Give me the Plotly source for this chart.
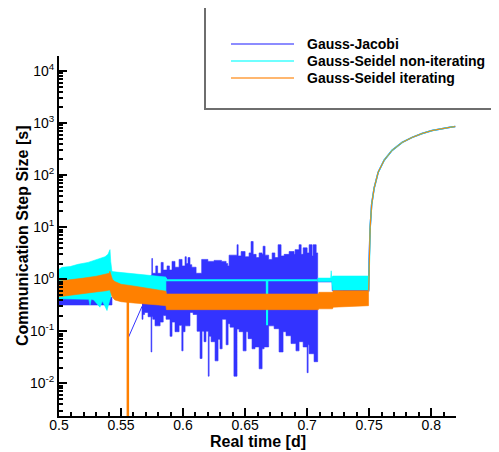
import plotly.graph_objects as go

# ---- data ----
# Gauss-Jacobi (blue)
gj_a_x = [0.5, 0.51, 0.515, 0.5155, 0.516, 0.525, 0.5255, 0.526, 0.535, 0.5355, 0.536, 0.5427]
gj_a_hi = [0.45, 0.45, 0.45, 0.55, 0.45, 0.45, 0.6, 0.45, 0.45, 0.6, 0.45, 0.45]
gj_a_lo = [0.32, 0.32, 0.32, 0.32, 0.32, 0.32, 0.32, 0.32, 0.32, 0.32, 0.32, 0.32]

gj_link_x = [0.5555, 0.5669]
gj_link_y = [0.072, 0.30]

gj_up_x = [0.5669, 0.572, 0.5742, 0.5748, 0.5754, 0.578, 0.5795, 0.5823, 0.584, 0.5871,
           0.589, 0.5911, 0.5935, 0.5968, 0.5992, 0.6016, 0.6026, 0.604, 0.6056, 0.607,
           0.6105, 0.6145, 0.615, 0.62, 0.625, 0.631, 0.6347, 0.636, 0.6371, 0.6435,
           0.6444, 0.6468, 0.65, 0.6532, 0.6548, 0.6565, 0.6589, 0.6613, 0.6637, 0.6645,
           0.6661, 0.669, 0.6718, 0.674, 0.6766, 0.679, 0.6815, 0.6855, 0.6895, 0.6903,
           0.6935, 0.6952, 0.6968, 0.7, 0.7016, 0.704, 0.7048, 0.7073, 0.7085]
gj_up_y = [1.0, 1.1, 1.2, 2.5, 1.3, 1.8, 1.3, 2.1, 1.5, 1.8,
           1.5, 2.2, 1.7, 2.4, 1.8, 2.7, 2.0, 2.6, 1.9, 1.7,
           1.3, 1.3, 2.4, 2.2, 2.3, 2.2, 2.0, 1.8, 2.9, 4.6,
           2.8, 3.4, 2.7, 3.2, 5.3, 3.0, 2.6, 3.2, 3.0, 4.3,
           2.9, 2.4, 3.2, 2.6, 4.6, 2.8, 3.0, 3.4, 3.0, 3.7,
           4.6, 3.0, 4.0, 3.2, 4.6, 2.8, 4.6, 3.2, 3.2]
gj_lo_x = [0.5669, 0.5677, 0.569, 0.5718, 0.5742, 0.5748, 0.5756, 0.5774, 0.5815, 0.584,
           0.5863, 0.5895, 0.5911, 0.5935, 0.5968, 0.599, 0.6, 0.6016, 0.6056, 0.6081,
           0.6113, 0.6137, 0.6153, 0.6169, 0.6185, 0.6203, 0.621, 0.6226, 0.6258, 0.6282,
           0.6298, 0.6315, 0.6347, 0.6363, 0.6379, 0.641, 0.6435, 0.6452, 0.6484, 0.6508,
           0.6524, 0.6556, 0.658, 0.6613, 0.6637, 0.6653, 0.669, 0.6734, 0.6774, 0.6806,
           0.683, 0.687, 0.691, 0.6935, 0.6968, 0.7, 0.7008, 0.7016, 0.7056, 0.7085]
gj_lo_y = [0.30, 0.17, 0.21, 0.23, 0.19, 0.04, 0.19, 0.17, 0.127, 0.15,
           0.2, 0.17, 0.08, 0.15, 0.098, 0.13, 0.042, 0.098, 0.127, 0.23,
           0.21, 0.1, 0.03, 0.1, 0.063, 0.1, 0.0137, 0.08, 0.063, 0.027,
           0.07, 0.046, 0.17, 0.055, 0.14, 0.12, 0.0137, 0.11, 0.098, 0.042,
           0.098, 0.072, 0.046, 0.05, 0.019, 0.046, 0.05, 0.127, 0.112, 0.04,
           0.098, 0.082, 0.058, 0.042, 0.063, 0.05, 0.016, 0.055, 0.037, 0.026]

gj_tail_x = [0.7085, 0.7205, 0.7205, 0.7495]
gj_tail_y = [0.9, 0.9, 0.62, 0.62]

# Gauss-Seidel non-iterating (cyan)
gsn_a_x = [0.5, 0.5024, 0.509, 0.5153, 0.5234, 0.5315, 0.5371, 0.5395, 0.5405, 0.5411, 0.5417, 0.5427]
gsn_a_hi = [1.55, 1.69, 1.75, 1.93, 2.1, 2.4, 2.7, 3.0, 3.4, 3.7, 2.2, 1.4]
gsn_a_lo_x = [0.5, 0.51, 0.52, 0.524, 0.525, 0.526, 0.528, 0.531, 0.533, 0.535, 0.537, 0.5387, 0.54, 0.5415, 0.5427]
gsn_a_lo = [0.42, 0.42, 0.41, 0.41, 0.32, 0.41, 0.40, 0.33, 0.29, 0.38, 0.30, 0.25, 0.33, 0.45, 0.55]

gsn_b_x = [0.5427, 0.55, 0.56, 0.57, 0.58, 0.5862]
gsn_b_hi = [1.4, 1.35, 1.28, 1.2, 1.13, 1.1]
gsn_b_lo = [0.5, 0.5, 0.5, 0.5, 0.5, 0.5]

gsn_line_x = [0.5862, 0.5865, 0.6675, 0.6677, 0.6679, 0.7085]
gsn_line_y = [1.05, 0.96, 0.96, 0.13, 0.96, 0.96]

gsn_c_x = [0.7085, 0.719, 0.7194, 0.7198, 0.7205, 0.7495]
gsn_c_hi = [1.05, 1.05, 1.45, 1.05, 1.15, 1.15]
gsn_c_lo = [0.9, 0.9, 0.9, 0.9, 0.62, 0.62]

# Gauss-Seidel iterating (orange)
gsi_x = [0.5, 0.51, 0.52, 0.53, 0.538, 0.5405, 0.541, 0.5415, 0.543, 0.545, 0.55, 0.56,
         0.57, 0.58, 0.5862, 0.5866, 0.709, 0.7095, 0.7205, 0.721, 0.7495]
gsi_hi = [0.92, 0.97, 1.05, 1.14, 1.25, 1.3, 1.42, 1.3, 1.0, 0.9, 0.8, 0.74,
          0.67, 0.62, 0.59, 0.52, 0.52, 0.56, 0.56, 0.6, 0.6]
gsi_lo = [0.46, 0.5, 0.53, 0.57, 0.6, 0.62, 0.62, 0.6, 0.45, 0.4, 0.37, 0.35,
          0.33, 0.32, 0.31, 0.26, 0.26, 0.27, 0.27, 0.29, 0.31]
gsi_drop_x = [0.5555, 0.5555]
gsi_drop_y = [0.6, 0.001]

# final rise shared by all three methods
rise_x = [0.7496, 0.75, 0.7508, 0.752, 0.754, 0.7573, 0.7621, 0.7685, 0.7766, 0.7847,
          0.7927, 0.8008, 0.8089, 0.8153, 0.8194]
rise_y = [0.6, 2.4, 9.8, 27, 56, 114, 193, 299, 424, 530, 630, 719, 790, 830, 855]

x_ticks = [0.5, 0.55, 0.6, 0.65, 0.7, 0.75, 0.8]
x_labels = ["0.5", "0.55", "0.6", "0.65", "0.7", "0.75", "0.8"]
y_ticks = [0.01, 0.1, 1, 10, 100, 1000, 10000]
y_labels = ["10<sup>-2</sup>", "10<sup>-1</sup>", "10<sup>0</sup>", "10<sup>1</sup>",
            "10<sup>2</sup>", "10<sup>3</sup>", "10<sup>4</sup>"]

names = ["Gauss-Jacobi", "Gauss-Seidel non-iterating", "Gauss-Seidel iterating"]

BLUE = "#3333ff"
CYAN = "#00ffff"
ORANGE = "#ff8000"
FONT = "Liberation Sans, Arial, Helvetica, sans-serif"

fig = go.Figure()


def add_band(xh, yh, xl, yl, color, shape="linear"):
    # polygon: upper edge left->right, lower edge back right->left
    fig.add_trace(go.Scatter(x=list(xh) + list(xl)[::-1], y=list(yh) + list(yl)[::-1],
                             mode="lines", fill="toself", fillcolor=color,
                             line=dict(color=color, width=0.6, shape=shape),
                             showlegend=False, hoverinfo="skip"))


def add_line(x, y, color, width):
    fig.add_trace(go.Scatter(x=x, y=y, mode="lines", line=dict(color=color, width=width),
                             showlegend=False, hoverinfo="skip"))


# blue first, cyan over it, orange on top
add_band(gj_a_x, gj_a_hi, gj_a_x, gj_a_lo, BLUE)
add_line(gj_link_x, gj_link_y, BLUE, 1)
add_band(gj_up_x, gj_up_y, gj_lo_x, gj_lo_y, BLUE, shape="hv")
add_line(gj_tail_x + rise_x, gj_tail_y + rise_y, BLUE, 1.5)

add_band(gsn_a_x, gsn_a_hi, gsn_a_lo_x, gsn_a_lo, CYAN)
add_band(gsn_b_x, gsn_b_hi, gsn_b_x, gsn_b_lo, CYAN)
add_line(gsn_line_x, gsn_line_y, CYAN, 2)
add_band(gsn_c_x, gsn_c_hi, gsn_c_x, gsn_c_lo, CYAN)
add_line(rise_x, rise_y, CYAN, 1.5)

add_band(gsi_x, gsi_hi, gsi_x, gsi_lo, ORANGE)
add_line(gsi_drop_x, gsi_drop_y, ORANGE, 2.5)
add_line(rise_x, rise_y, ORANGE, 1)

# the page body has an 8px margin, so the figure is shifted by it
OFF = 8
W, H = 499 - OFF, 452 - OFF
# plot area in window pixels
L, R, T, B = 59, 456, 56, 416


def px(v):
    return (v - L) / (R - L)


def py(v):
    return (B - v) / (B - T)


shapes = [
    dict(type="rect", xref="paper", yref="paper", x0=px(205), x1=px(520), y0=py(109), y1=py(7),
         line=dict(color="#6e6e6e", width=2), fillcolor="white", layer="above"),
    dict(type="line", xref="paper", yref="paper", x0=px(205), x1=px(520), y0=py(7), y1=py(7),
         line=dict(color="black", width=2)),
]
annotations = []
for name, color, yy in zip(names, [BLUE, CYAN, ORANGE], [44, 61, 78]):
    shapes.append(dict(type="line", xref="paper", yref="paper", x0=px(231), x1=px(294),
                       y0=py(yy), y1=py(yy), line=dict(color=color, width=1.5), opacity=0.75))
    annotations.append(dict(xref="paper", yref="paper", x=px(305), y=py(yy), text="<b>" + name + "</b>",
                            xanchor="left", yanchor="middle", showarrow=False,
                            font=dict(family=FONT, size=14, color="black")))

annotations.append(dict(xref="paper", yref="paper", x=0.5, y=py(441), text="<b>Real time [d]</b>",
                        xanchor="center", yanchor="middle", showarrow=False,
                        font=dict(family=FONT, size=16, color="black")))
annotations.append(dict(xref="paper", yref="paper", x=px(22), y=py(236),
                        text="<b>Communication Step Size [s]</b>", textangle=-90,
                        xanchor="center", yanchor="middle", showarrow=False,
                        font=dict(family=FONT, size=16, color="black")))

minor_y = [m * 10 ** e for e in range(-3, 4) for m in range(2, 10)]

fig.update_layout(
    width=W, height=H,
    margin=dict(l=L - OFF, r=499 - R, t=T - OFF, b=452 - B, pad=0),
    paper_bgcolor="white", plot_bgcolor="white",
    font=dict(family=FONT, size=14, color="black"),
    shapes=shapes, annotations=annotations,
    xaxis=dict(range=[0.5, 0.82], tickmode="array", tickvals=x_ticks, ticktext=x_labels,
               showline=True, linecolor="black", linewidth=2, ticks="inside", ticklen=8,
               tickwidth=2, tickcolor="black", showgrid=False, zeroline=False,
               ticklabelstandoff=-5,
               minor=dict(ticks="inside", ticklen=4, tickwidth=1.5, tickcolor="black",
                          dtick=0.01, tick0=0.5, showgrid=False),
               tickfont=dict(family=FONT, size=14)),
    yaxis=dict(type="log", range=[-2.628, 4.288], tickmode="array", tickvals=y_ticks,
               ticktext=y_labels, showline=True, linecolor="black", linewidth=2,
               ticks="inside", ticklen=8, tickwidth=2, tickcolor="black",
               showgrid=False, zeroline=False,
               minor=dict(ticks="inside", ticklen=4, tickwidth=1.5, tickcolor="black",
                          tickmode="array", tickvals=minor_y, showgrid=False),
               tickfont=dict(family=FONT, size=14)),
)

fig.write_html("out.html")
